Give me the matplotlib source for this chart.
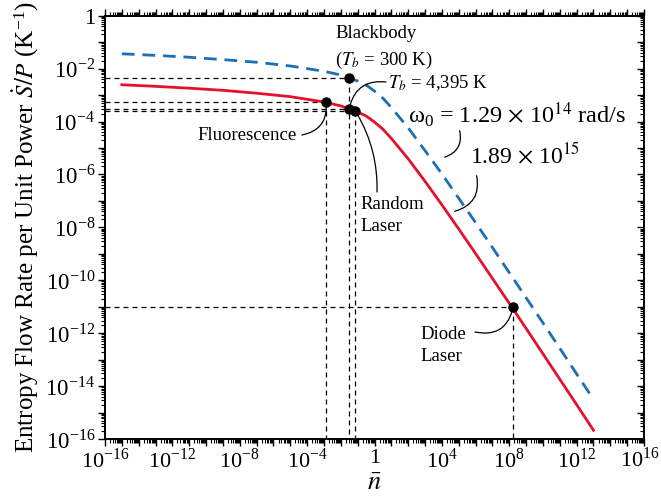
import numpy as np
import matplotlib
matplotlib.use("Agg")
import matplotlib.pyplot as plt
from matplotlib.ticker import LogLocator, FuncFormatter, NullFormatter

plt.rcParams['font.family'] = ['Liberation Serif', 'DejaVu Serif']
plt.rcParams['mathtext.fontset'] = 'stix'

# ---- data ----
n_bar = [1e-15, 1e-13, 1e-11, 1e-9, 1e-7, 1e-5, 1e-3, 1e-2, 1e-1, 10**-0.5, 1.0,
         10**0.5, 1e1, 1e2, 1e3, 1e4, 1e5, 1e6, 1e7, 1e8, 1e9, 1e10, 1e11, 1e12, 1e13]
log_s_blue = [-1.44, -1.50, -1.57, -1.66, -1.76, -1.90, -2.10, -2.24, -2.47, -2.62, -2.85,
              -3.12, -3.47, -4.24, -5.10, -5.98, -6.90, -7.82, -8.76, -9.71, -10.66,
              -11.61, -12.57, -13.54, -14.50]
log_s_red = [-2.61, -2.67, -2.74, -2.82, -2.93, -3.06, -3.26, -3.41, -3.64, -3.79, -4.02,
             -4.29, -4.64, -5.41, -6.26, -7.15, -8.06, -8.99, -9.93, -10.87, -11.82,
             -12.78, -13.74, -14.70, -15.67]
s_blue = [10**v for v in log_s_blue]   # omega0 = 1.29e14 rad/s
s_red = [10**v for v in log_s_red]     # omega0 = 1.89e15 rad/s

# marked points
bb_n, bb_s = 10**-1.5, 10**-2.344          # Blackbody (Tb = 300 K), blue curve
tb_n, tb_s = 10**-1.5, 10**-3.511          # Tb = 4,395 K, red curve
fl_n, fl_s = 10**-2.88, 10**-3.28          # Fluorescence
rl_n, rl_s = 10**-1.15, 10**-3.59          # Random laser
dl_n, dl_s = 10**8.23, 10**-11.0           # Diode laser

xlim = (1e-16, 1e16)
ylim = (1e-16, 1.0)

W, H = 661, 499
fig = plt.figure(figsize=(W/100, H/100), dpi=100)
L, R, T, B = 105, 644, 15.7, 439
ax = fig.add_axes([L/W, 1-B/H, (R-L)/W, (B-T)/H])
ax.set_xscale('log'); ax.set_yscale('log')
ax.set_xlim(*xlim); ax.set_ylim(*ylim)

red = '#E3112C'
blue = '#1B6FB5'
ax.plot(n_bar, s_blue, color=blue, lw=2.0, dashes=(4.6, 2.8), zorder=3)
ax.plot(n_bar, s_red, color=red, lw=2.0, zorder=3)

# guide lines
gkw = dict(color='k', lw=0.9, dashes=(4, 3.2), zorder=2)
for (px, py) in [(bb_n, bb_s), (fl_n, fl_s), (tb_n, tb_s), (rl_n, rl_s), (dl_n, dl_s)]:
    ax.plot([xlim[0], px], [py, py], **gkw)
for (px, py) in [(bb_n, bb_s), (fl_n, fl_s), (rl_n, rl_s), (dl_n, dl_s)]:
    ax.plot([px, px], [py, ylim[0]], **gkw)

ax.plot([bb_n, tb_n, fl_n, rl_n, dl_n], [bb_s, tb_s, fl_s, rl_s, dl_s], 'o',
        color='k', ms=6.5, zorder=5)

# helper: reference pixel -> axes fraction
def af(px, py):
    return ((px - L) / (R - L), (B - py) / (B - T))

fs = 13.5
ax.text(*af(376, 33), 'Blackbody', transform=ax.transAxes, ha='center', va='center', fontsize=fs)
ax.text(*af(384, 60), r'($T_b$ = 300 K)', transform=ax.transAxes, ha='center', va='center', fontsize=fs)
ax.text(*af(388, 83), r'$T_b$ = 4,395 K', transform=ax.transAxes, ha='left', va='center', fontsize=fs)
ax.text(*af(408, 115), r'$\mathregular{\omega_0}$ = 1.29 $\times$ 10$^{14}$ rad/s', transform=ax.transAxes,
        ha='left', va='center', fontsize=17.5)
ax.text(*af(470, 155), r'1.89 $\times$ 10$^{15}$', transform=ax.transAxes,
        ha='left', va='center', fontsize=17)
ax.text(*af(297, 135), 'Fluorescence', transform=ax.transAxes, ha='right', va='center', fontsize=fs)
ax.text(*af(360, 215.5), 'Random\nLaser', transform=ax.transAxes, ha='left', va='center',
        fontsize=fs, linespacing=1.35)
ax.text(*af(420, 345.5), 'Diode\nLaser', transform=ax.transAxes, ha='left', va='center',
        fontsize=fs, linespacing=1.35)

lkw = dict(arrowstyle='-', lw=0.9, color='k', shrinkA=0, shrinkB=3)
ax.annotate('', xy=(fl_n, fl_s), xycoords='data', xytext=af(302, 135), textcoords='axes fraction',
            arrowprops=dict(connectionstyle='arc3,rad=0.45', **lkw))
ax.annotate('', xy=(tb_n, tb_s), xycoords='data', xytext=af(386, 82), textcoords='axes fraction',
            arrowprops=dict(connectionstyle='arc3,rad=0.45', **lkw))
ax.annotate('', xy=(rl_n, rl_s), xycoords='data', xytext=af(377, 192), textcoords='axes fraction',
            arrowprops=dict(connectionstyle='arc3,rad=0.15', **lkw))
ax.annotate('', xy=(dl_n, dl_s), xycoords='data', xytext=af(475, 332), textcoords='axes fraction',
            arrowprops=dict(connectionstyle='arc3,rad=0.5', **lkw))
ax.annotate('', xy=af(442, 158), xycoords='axes fraction', xytext=af(459, 128), textcoords='axes fraction',
            arrowprops=dict(connectionstyle='arc3,rad=-0.5', arrowstyle='-', lw=0.9, color='k'))
ax.annotate('', xy=af(452, 212), xycoords='axes fraction', xytext=af(476, 173), textcoords='axes fraction',
            arrowprops=dict(connectionstyle='arc3,rad=-0.5', arrowstyle='-', lw=0.9, color='k'))

# ticks
def fmt_every(k, skip=()):
    def f(v, pos):
        e = int(round(np.log10(v)))
        if e % k != 0 or e in skip:
            return ''
        if e == 0:
            return '1'
        return r'10$^{\mathregular{%d}}$' % e
    return f

for axis, k, skip in [(ax.xaxis, 4, (16,)), (ax.yaxis, 2, ())]:
    axis.set_major_locator(LogLocator(base=10, numticks=60))
    axis.set_minor_locator(LogLocator(base=10, subs=np.arange(2, 10), numticks=200))
    axis.set_major_formatter(FuncFormatter(fmt_every(k, skip)))
    axis.set_minor_formatter(NullFormatter())

# last x tick label, shifted so it stays inside the figure
ax.text(*af(660, 448), r'10$^{\mathregular{16}}$', transform=ax.transAxes,
        ha='right', va='top', fontsize=16)

ax.tick_params(axis='x', which='both', direction='out', top=True, bottom=True, labelsize=16, pad=2)
ax.tick_params(axis='y', which='both', direction='out', left=True, right=False, labelsize=16.5, pad=2)
ax.tick_params(which='major', length=5, width=1.0)
ax.tick_params(which='minor', length=3, width=0.8)

axr = ax.twinx()
axr.set_yscale('log'); axr.set_ylim(*ylim)
axr.yaxis.set_major_locator(LogLocator(base=10, numticks=60))
axr.yaxis.set_minor_locator(LogLocator(base=10, subs=np.arange(2, 10), numticks=200))
axr.yaxis.set_major_formatter(NullFormatter()); axr.yaxis.set_minor_formatter(NullFormatter())
axr.tick_params(axis='y', which='both', direction='in', right=True, labelright=False)
axr.tick_params(which='major', length=5, width=1.0)
axr.tick_params(which='minor', length=3, width=0.8)

for a in (ax, axr):
    for s in a.spines.values():
        s.set_linewidth(1.2)

ax.set_xlabel(r'$\bar{n}$', fontsize=19, labelpad=0)
ax.set_ylabel(r'Entropy Flow Rate per Unit Power $\dot{S}/P$ (K$^{\mathregular{-1}}$)', fontsize=18, labelpad=3)

fig.savefig('out.png', dpi=100)
